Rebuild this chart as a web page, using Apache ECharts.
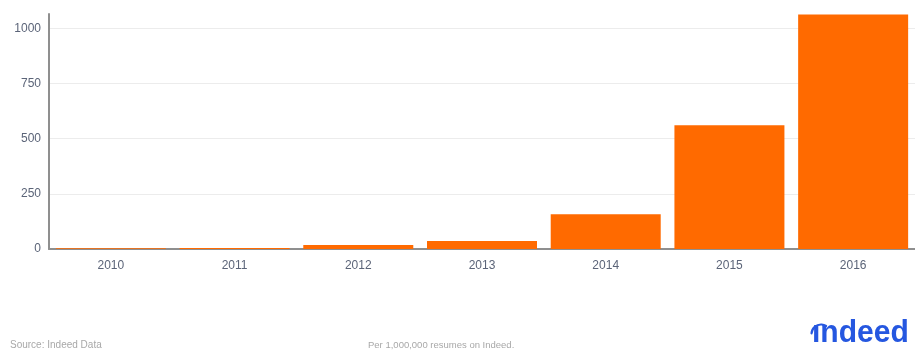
<!DOCTYPE html>
<html>
<head>
<meta charset="utf-8">
<script src="https://cdn.jsdelivr.net/npm/echarts@6/dist/echarts.min.js"></script>
<style>
  html, body { margin: 0; padding: 0; background: #fff; }
  #main { width: 915px; height: 350px; }
</style>
</head>
<body>
<div id="main"></div>
<script>
// data
var years = ['2010', '2011', '2012', '2013', '2014', '2015', '2016'];
var perMillion = [3, 4, 18, 36, 158, 561, 1063];
var yTicks = [0, 250, 500, 750, 1000];

var myChart = echarts.init(document.getElementById('main'));
var option = {
    animation: false,
    grid: { left: 49, right: -4, top: 14, bottom: 101 },
    xAxis: {
        type: 'category',
        data: years,
        axisTick: { show: false },
        axisLine: { lineStyle: { color: '#8f8f8f', width: 2 } },
        axisLabel: { color: '#5b6478', fontSize: 12, margin: 11, fontFamily: 'Liberation Sans' }
    },
    yAxis: {
        type: 'value',
        min: 0,
        max: 1065,
        interval: 250,
        axisLine: { show: true, lineStyle: { color: '#8f8f8f', width: 2 } },
        axisTick: { show: false },
        axisLabel: {
            color: '#5b6478', fontSize: 12, margin: 8, fontFamily: 'Liberation Sans',
            showMaxLabel: false,
            formatter: function (v) { return yTicks.indexOf(v) >= 0 ? v : ''; }
        },
        splitLine: { showMaxLine: false, lineStyle: { color: '#ececec' } }
    },
    series: [{
        type: 'bar',
        data: perMillion,
        barWidth: 110,
        itemStyle: { color: '#ff6a00' }
    }],
    graphic: [
        { type: 'text', left: 10, top: 340, style: { text: 'Source: Indeed Data', fill: '#a8a8a8', font: '10px Liberation Sans' } },
        { type: 'text', left: 368, top: 340, style: { text: 'Per 1,000,000 resumes on Indeed.', fill: '#a8a8a8', font: '9.5px Liberation Sans' } },
        // indeed logo: dotless i + swoosh arc
        { type: 'text', x: 812, y: 318, scaleX: 0.97, style: { text: 'ındeed', fill: '#2557e0', font: 'bold 31px Liberation Sans' } },
        { type: 'arc', shape: { cx: 821, cy: 334, r: 9.5, startAngle: Math.PI * 1.02, endAngle: Math.PI * 1.68, clockwise: true },
          style: { stroke: '#2557e0', lineWidth: 2.2, fill: null, lineCap: 'round' } }
    ]
};
myChart.setOption(option);
</script>
</body>
</html>
